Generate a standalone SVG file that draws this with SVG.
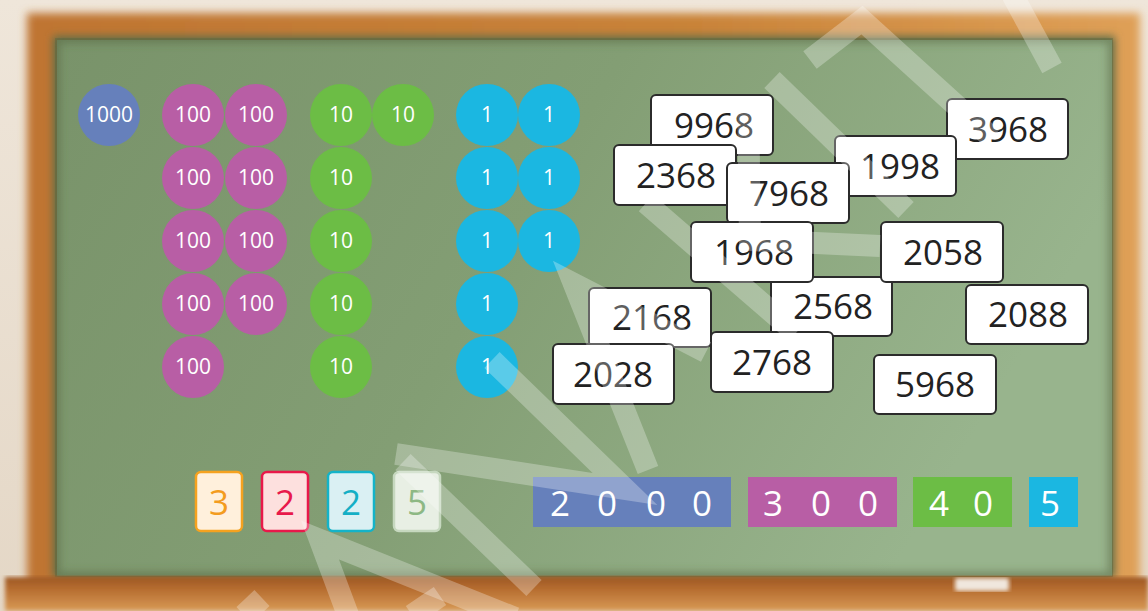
<svg xmlns="http://www.w3.org/2000/svg" width="1148" height="611" viewBox="0 0 1148 611">
<defs>
<linearGradient id="wall" x1="0" y1="0" x2="0" y2="1"><stop offset="0" stop-color="#efe6da"/><stop offset="1" stop-color="#e4d7c6"/></linearGradient>
<linearGradient id="wood" x1="0" y1="0" x2="1" y2="0"><stop offset="0" stop-color="#bf7532"/><stop offset="0.6" stop-color="#c98339"/><stop offset="1" stop-color="#dfa057"/></linearGradient>
<linearGradient id="ledge" x1="0" y1="0" x2="0" y2="1"><stop offset="0" stop-color="#9c5724"/><stop offset="0.35" stop-color="#b66d30"/><stop offset="1" stop-color="#d89a56"/></linearGradient>
<linearGradient id="board" x1="0" y1="0" x2="1" y2="0.3"><stop offset="0" stop-color="#79936a"/><stop offset="0.5" stop-color="#839e74"/><stop offset="1" stop-color="#98b48d"/></linearGradient>
<filter id="blur" x="-5%" y="-5%" width="110%" height="110%"><feGaussianBlur stdDeviation="4"/></filter>
<filter id="blur2" x="-5%" y="-5%" width="110%" height="110%"><feGaussianBlur stdDeviation="2"/></filter>
<clipPath id="bclip"><rect x="55" y="38" width="1058" height="539"/></clipPath>
</defs>
<style>
.ct{font-family:"Open Sans","DejaVu Sans",sans-serif;font-size:21px;fill:#ffffff;text-anchor:middle}
.th{fill:#6680bb}.hu{fill:#b85ea5}.te{fill:#6cbd45}.on{fill:#1bb7e1}
.card rect{fill:#ffffff;stroke:#2b2b2b;stroke-width:2}
.card text{font-family:"Open Sans","DejaVu Sans",sans-serif;font-size:35px;fill:#222222;text-anchor:middle}
.dg{font-family:"Open Sans","DejaVu Sans",sans-serif;font-size:35px;text-anchor:middle}
.bt{font-family:"Open Sans","DejaVu Sans",sans-serif;font-size:35px;fill:#ffffff;text-anchor:middle}
.wm{fill:none;stroke:#ffffff;stroke-opacity:0.28;stroke-width:22;stroke-linejoin:miter;stroke-linecap:butt}
</style>
<rect x="0" y="0" width="1148" height="611" fill="url(#wall)"/>
<g id="frame">
<rect x="27" y="13" width="1113" height="580" fill="url(#wood)" filter="url(#blur)"/>
<rect x="53" y="36" width="1062" height="542" fill="#5e6e48" filter="url(#blur)"/>
<rect x="57" y="40" width="1055" height="536" fill="url(#board)"/>
<g clip-path="url(#bclip)"><rect x="55" y="38" width="1058" height="539" fill="none" stroke="#55653f" stroke-opacity="0.55" stroke-width="10" filter="url(#blur)"/></g>
<rect x="5" y="577" width="1143" height="34" fill="url(#ledge)" filter="url(#blur2)"/>
<rect x="955" y="578" width="54" height="13" rx="2" fill="#f0e7dd" filter="url(#blur2)"/>
</g>
<g id="thousands"><circle class="th" cx="109" cy="115" r="31"/><text class="ct" x="109" y="122">1000</text></g>
<g id="hundreds">
<circle class="hu" cx="193" cy="115" r="31"/><text class="ct" x="193" y="122">100</text>
<circle class="hu" cx="256" cy="115" r="31"/><text class="ct" x="256" y="122">100</text>
<circle class="hu" cx="193" cy="178" r="31"/><text class="ct" x="193" y="185">100</text>
<circle class="hu" cx="256" cy="178" r="31"/><text class="ct" x="256" y="185">100</text>
<circle class="hu" cx="193" cy="241" r="31"/><text class="ct" x="193" y="248">100</text>
<circle class="hu" cx="256" cy="241" r="31"/><text class="ct" x="256" y="248">100</text>
<circle class="hu" cx="193" cy="304" r="31"/><text class="ct" x="193" y="311">100</text>
<circle class="hu" cx="256" cy="304" r="31"/><text class="ct" x="256" y="311">100</text>
<circle class="hu" cx="193" cy="367" r="31"/><text class="ct" x="193" y="374">100</text>
</g>
<g id="tens">
<circle class="te" cx="341" cy="115" r="31"/><text class="ct" x="341" y="122">10</text>
<circle class="te" cx="403" cy="115" r="31"/><text class="ct" x="403" y="122">10</text>
<circle class="te" cx="341" cy="178" r="31"/><text class="ct" x="341" y="185">10</text>
<circle class="te" cx="341" cy="241" r="31"/><text class="ct" x="341" y="248">10</text>
<circle class="te" cx="341" cy="304" r="31"/><text class="ct" x="341" y="311">10</text>
<circle class="te" cx="341" cy="367" r="31"/><text class="ct" x="341" y="374">10</text>
</g>
<g id="ones">
<circle class="on" cx="487" cy="115" r="31"/><text class="ct" x="487" y="122">1</text>
<circle class="on" cx="549" cy="115" r="31"/><text class="ct" x="549" y="122">1</text>
<circle class="on" cx="487" cy="178" r="31"/><text class="ct" x="487" y="185">1</text>
<circle class="on" cx="549" cy="178" r="31"/><text class="ct" x="549" y="185">1</text>
<circle class="on" cx="487" cy="241" r="31"/><text class="ct" x="487" y="248">1</text>
<circle class="on" cx="549" cy="241" r="31"/><text class="ct" x="549" y="248">1</text>
<circle class="on" cx="487" cy="304" r="31"/><text class="ct" x="487" y="311">1</text>
<circle class="on" cx="487" cy="367" r="31"/><text class="ct" x="487" y="374">1</text>
</g>
<g id="card-3968" class="card"><rect x="947" y="99" width="121" height="60" rx="5"/><text x="1008" y="142">3968</text></g>
<g id="card-1998" class="card"><rect x="835" y="136" width="121" height="60" rx="5"/><text x="900" y="179">1998</text></g>
<g id="card-9968" class="card"><rect x="651" y="95" width="122" height="60" rx="5"/><text x="714" y="138">9968</text></g>
<g id="card-2368" class="card"><rect x="614" y="145" width="122" height="60" rx="5"/><text x="676" y="188">2368</text></g>
<g id="card-7968" class="card"><rect x="727" y="163" width="122" height="60" rx="5"/><text x="789" y="206">7968</text></g>
<g id="card-2568" class="card"><rect x="771" y="277" width="121" height="59" rx="5"/><text x="833" y="319">2568</text></g>
<g id="card-1968" class="card"><rect x="691" y="222" width="122" height="60" rx="5"/><text x="754" y="265">1968</text></g>
<g id="card-2058" class="card"><rect x="881" y="222" width="122" height="60" rx="5"/><text x="943" y="265">2058</text></g>
<g id="card-2168" class="card"><rect x="589" y="288" width="122" height="59" rx="5"/><text x="652" y="330">2168</text></g>
<g id="card-2028" class="card"><rect x="553" y="344" width="121" height="60" rx="5"/><text x="613" y="387">2028</text></g>
<g id="card-2768" class="card"><rect x="711" y="332" width="122" height="60" rx="5"/><text x="772" y="375">2768</text></g>
<g id="card-2088" class="card"><rect x="966" y="285" width="122" height="59" rx="5"/><text x="1028" y="327">2088</text></g>
<g id="card-5968" class="card"><rect x="874" y="355" width="122" height="59" rx="5"/><text x="935" y="397">5968</text></g>
<g id="digit-3"><rect x="196" y="472" width="46" height="59" rx="5" fill="#fff0dc" stroke="#f5a21f" stroke-width="2.5"/><text class="dg" x="219" y="515" fill="#f39c1e">3</text></g>
<g id="digit-2a"><rect x="262" y="472" width="46" height="59" rx="5" fill="#fde0de" stroke="#e8194a" stroke-width="2.5"/><text class="dg" x="285" y="515" fill="#e8194a">2</text></g>
<g id="digit-2b"><rect x="328" y="472" width="46" height="59" rx="5" fill="#daf0f3" stroke="#14b3c8" stroke-width="2.5"/><text class="dg" x="351" y="515" fill="#14afc5">2</text></g>
<g id="digit-5"><rect x="394" y="472" width="46" height="59" rx="5" fill="#e8efe4" stroke="#c6d8bf" stroke-width="2.5"/><text class="dg" x="417" y="515" fill="#8db884">5</text></g>
<g id="bar-2000"><rect x="533" y="477" width="198" height="50" fill="#6680bb"/><text class="bt" x="560" y="516">2</text><text class="bt" x="607" y="516">0</text><text class="bt" x="656" y="516">0</text><text class="bt" x="702" y="516">0</text></g>
<g id="bar-300"><rect x="748" y="477" width="149" height="50" fill="#b85ea5"/><text class="bt" x="773" y="516">3</text><text class="bt" x="821" y="516">0</text><text class="bt" x="868" y="516">0</text></g>
<g id="bar-40"><rect x="913" y="477" width="99" height="50" fill="#6cbd45"/><text class="bt" x="939" y="516">4</text><text class="bt" x="983" y="516">0</text></g>
<g id="bar-5"><rect x="1029" y="477" width="49" height="50" fill="#1bb7e1"/><text class="bt" x="1050" y="516">5</text></g>
<g id="connectors"></g>
<g id="watermark">
<path class="wm" d="M810,60 L862,20 L992,138"/>
<path class="wm" d="M1012,-6 L1052,68"/>
<path class="wm" d="M772,80 L906,210"/>
<path class="wm" d="M748,100 L750,240 L880,246"/>
<path class="wm" d="M646,203 L796,333"/>
<path class="wm" d="M648,470 L574,284 L706,352"/>
<path class="wm" d="M492,360 L625,489 L396,454"/>
<path class="wm" d="M403,462 L534,588"/>
<path class="wm" d="M348,615 L320,540 L515,618"/>
<path class="wm" d="M412,615 L440,596"/>
<path class="wm" d="M244,615 L262,598"/>
</g>
</svg>
